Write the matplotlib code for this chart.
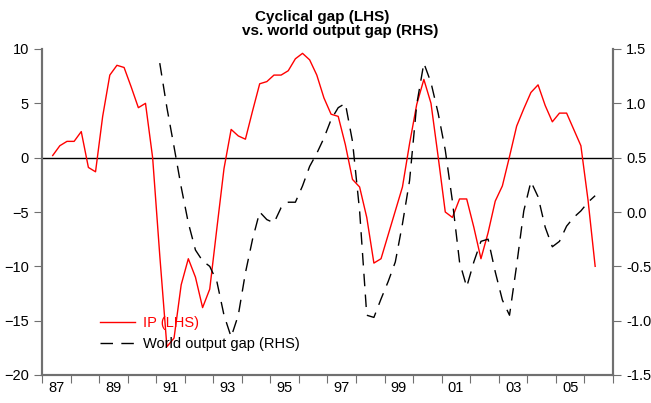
import numpy as np
import matplotlib
matplotlib.use('Agg')
import matplotlib.pyplot as plt
from matplotlib.ticker import FixedLocator, NullFormatter, FixedFormatter

# quarterly data, IP starts 1987 Q2, world gap starts 1991 Q1; both end 2006 Q2
ip_start = 1987.25
ip_lhs = [0.2, 1.1, 1.5, 1.5, 2.4, -0.9, -1.3, 3.8, 7.6, 8.5, 8.3, 6.5, 4.6, 5.0,
          0.0, -9.0, -17.4, -16.6, -11.7, -9.3, -11.0, -13.8, -12.1, -6.5, -1.0, 2.6,
          2.0, 1.7, 4.3, 6.8, 7.0, 7.6, 7.6, 8.0, 9.1, 9.6, 9.0, 7.6, 5.5, 4.0, 3.8,
          1.2, -2.0, -2.7, -5.5, -9.7, -9.3, -7.1, -4.9, -2.7, 1.3, 4.9, 7.2, 5.0, 0.1,
          -5.0, -5.5, -3.8, -3.8, -6.4, -9.3, -6.9, -4.0, -2.6, 0.1, 2.9, 4.5, 6.0, 6.7,
          4.8, 3.3, 4.1, 4.1, 2.6, 1.1, -3.9, -10.0]
gap_start = 1991.0
world_gap_rhs = [1.37, 0.96, 0.60, 0.23, -0.10, -0.35, -0.45, -0.50, -0.64, -0.95, -1.15,
                 -0.95, -0.56, -0.25, 0.00, -0.07, -0.10, 0.04, 0.09, 0.09, 0.24, 0.42,
                 0.54, 0.68, 0.85, 0.96, 1.00, 0.65, 0.01, -0.95, -0.97, -0.80, -0.64,
                 -0.46, -0.11, 0.29, 0.99, 1.37, 1.19, 0.91, 0.57, 0.10, -0.46, -0.69,
                 -0.46, -0.27, -0.25, -0.55, -0.81, -0.95, -0.49, 0.01, 0.28, 0.14, -0.14,
                 -0.32, -0.27, -0.13, -0.05, 0.01, 0.09, 0.15]
year_labels = ['87', '89', '91', '93', '95', '97', '99', '01', '03', '05']

# mid-quarter positions
x_ip = ip_start + 0.125 + 0.25 * np.arange(len(ip_lhs))
x_gap = gap_start + 0.125 + 0.25 * np.arange(len(world_gap_rhs))

plt.rcParams['font.family'] = ['Liberation Sans', 'DejaVu Sans']
plt.rcParams['font.size'] = 10.5

W, H = 651, 403
fig = plt.figure(figsize=(W/100, H/100), dpi=100)
ax = fig.add_axes([42/W, 1 - 375/H, (613-42)/W, (375-49)/H])
ax2 = ax.twinx()

spine_col = '#707070'
l1, = ax.plot(x_ip, ip_lhs, color='red', lw=1.0, label='IP (LHS)')
l2, = ax2.plot(x_gap, world_gap_rhs, color='black', lw=1.0, dashes=(9, 6),
               label='World output gap (RHS)')
ax.axhline(0, color='black', lw=1.0, zorder=1)

ax.set_xlim(1987, 2007)
ax.set_ylim(-20, 10)
ax2.set_ylim(-1.5, 1.5)
ax.set_yticks(np.arange(-20, 11, 5))
ax2.set_yticks(np.arange(-1.5, 1.51, 0.5))
ax2.set_yticklabels(['%.1f' % v for v in np.arange(-1.5, 1.51, 0.5)])

ax.xaxis.set_major_locator(FixedLocator(np.arange(1987, 2008)))
ax.xaxis.set_major_formatter(NullFormatter())
ax.xaxis.set_minor_locator(FixedLocator(np.arange(1987.5, 2006, 2)))
ax.xaxis.set_minor_formatter(FixedFormatter(year_labels))
ax.tick_params(axis='x', which='major', length=6, direction='out', color=spine_col)
ax.tick_params(axis='x', which='minor', length=0, pad=4)
ax.tick_params(axis='y', length=6, color=spine_col)
ax2.tick_params(axis='y', length=6, color=spine_col)

for a in (ax, ax2):
    a.spines['top'].set_visible(False)
    for s in ('left', 'right', 'bottom'):
        a.spines[s].set_color(spine_col)
        a.spines[s].set_linewidth(1.5)

# title, two lines placed separately as in the original
fig.text(322/W, 1 - 21/H, 'Cyclical gap (LHS)', fontsize=11, fontweight='bold',
         ha='center', va='baseline')
fig.text(340/W, 1 - 35/H, 'vs. world output gap (RHS)', fontsize=11, fontweight='bold',
         ha='center', va='baseline')

leg = ax.legend([l1, l2], ['IP (LHS)', 'World output gap (RHS)'], loc='lower left',
                bbox_to_anchor=(0.0786, 0.034), frameon=False, fontsize=10.5,
                handlelength=2.4, handletextpad=0.55, labelspacing=0.45)
leg.get_texts()[0].set_color('red')

fig.savefig('out.png', dpi=100)
